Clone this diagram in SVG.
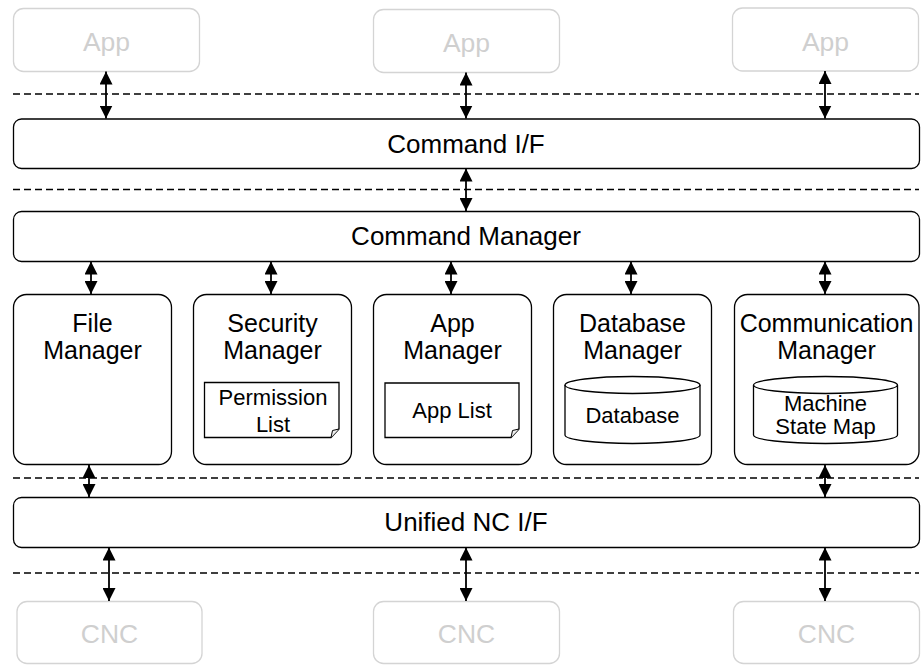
<svg xmlns="http://www.w3.org/2000/svg" width="923" height="665" viewBox="0 0 923 665">
<style>
text{font-family:"Liberation Sans",Arial,sans-serif;text-anchor:middle;fill:#000}
.main{font-size:25px}
.bar{font-size:26px}
.inner{font-size:22px}
.box{fill:#fff;stroke:#000;stroke-width:1.3}
.ghost{fill:#fff;stroke:#d4d4d4;stroke-width:1.3}
.ghostt{fill:#cfcfcf;font-size:26.5px}
.dash{stroke:#000;stroke-width:1.6;stroke-dasharray:7 4;fill:none}
.conn{stroke:#000;stroke-width:1.8;fill:none;marker-start:url(#ah);marker-end:url(#ah)}
</style>
<defs>
<marker id="ah" markerUnits="userSpaceOnUse" markerWidth="13" markerHeight="13" refX="13" refY="6.5" orient="auto-start-reverse">
<path d="M0,0 L13,6.5 L0,13 z" fill="#000"/>
</marker>
</defs>
<g id="separators">
<line class="dash" x1="13" y1="94" x2="919" y2="94"/>
<line class="dash" x1="13" y1="189.5" x2="919" y2="189.5"/>
<line class="dash" x1="13" y1="478" x2="919" y2="478"/>
<line class="dash" x1="13" y1="573" x2="919" y2="573"/>
</g>
<g id="app1"><rect class="ghost" x="13.5" y="8.5" width="186" height="63" rx="10"/><text class="ghostt" x="106.5" y="50.5">App</text></g>
<g id="app2"><rect class="ghost" x="373.5" y="9.5" width="186" height="63" rx="10"/><text class="ghostt" x="466.5" y="51.5">App</text></g>
<g id="app3"><rect class="ghost" x="732.5" y="8" width="186" height="63" rx="10"/><text class="ghostt" x="825.5" y="50.5">App</text></g>
<g id="command-if"><rect class="box" x="13.5" y="119" width="906" height="49.5" rx="8"/><text class="bar" x="466" y="153">Command I/F</text></g>
<g id="command-manager"><rect class="box" x="13.5" y="211.5" width="906" height="50" rx="8"/><text class="bar" x="466" y="245">Command Manager</text></g>
<g id="file-manager"><rect class="box" x="13.5" y="294.5" width="158" height="170" rx="13"/><text class="main" x="92.5" y="331.5">File</text><text class="main" x="92.5" y="358.5">Manager</text></g>
<g id="security-manager"><rect class="box" x="193.5" y="294.5" width="158" height="170" rx="13"/><text class="main" x="272.5" y="331.5">Security</text><text class="main" x="272.5" y="358.5">Manager</text>
<g id="permission-list"><path class="box" d="M204.5,382.5 H339 V429 L331,437.5 H204.5 Z"/><path d="M331,437.5 L332.5,430.5 L339,429" fill="#eee" stroke="#000" stroke-width="1"/><text class="inner" x="273" y="405">Permission</text><text class="inner" x="273" y="431.5">List</text></g></g>
<g id="app-manager"><rect class="box" x="373.5" y="294.5" width="158" height="170" rx="13"/><text class="main" x="452.5" y="331.5">App</text><text class="main" x="452.5" y="358.5">Manager</text>
<g id="app-list"><path class="box" d="M385,383 H519 V429 L511,437.5 H385 Z"/><path d="M511,437.5 L512.5,430.5 L519,429" fill="#eee" stroke="#000" stroke-width="1"/><text class="inner" x="452" y="418">App List</text></g></g>
<g id="database-manager"><rect class="box" x="553.5" y="294.5" width="158" height="170" rx="13"/><text class="main" x="632.5" y="331.5">Database</text><text class="main" x="632.5" y="358.5">Manager</text>
<g id="database"><path class="box" d="M565,385 A67.5,8.5 0 0 1 700,385 V435 A67.5,8.5 0 0 1 565,435 Z"/><path d="M565,385 A67.5,8.5 0 0 0 700,385" fill="none" stroke="#000" stroke-width="1.3"/><text class="inner" x="632.5" y="422.5">Database</text></g></g>
<g id="communication-manager"><rect class="box" x="734.5" y="294.5" width="184.5" height="170" rx="13"/><text class="main" x="826.5" y="331.5">Communication</text><text class="main" x="826.5" y="358.5">Manager</text>
<g id="machine-state-map"><path class="box" d="M753.5,385 A72,8.5 0 0 1 897.5,385 V435 A72,8.5 0 0 1 753.5,435 Z"/><path d="M753.5,385 A72,8.5 0 0 0 897.5,385" fill="none" stroke="#000" stroke-width="1.3"/><text class="inner" x="825.5" y="410.5">Machine</text><text class="inner" x="825.5" y="434">State Map</text></g></g>
<g id="unified-nc-if"><rect class="box" x="13.5" y="497.5" width="906" height="50" rx="8"/><text class="bar" x="466" y="531">Unified NC I/F</text></g>
<g id="cnc1"><rect class="ghost" x="17" y="601.5" width="185" height="62" rx="10"/><text class="ghostt" x="109.5" y="642.5">CNC</text></g>
<g id="cnc2"><rect class="ghost" x="373.5" y="601.5" width="186" height="62" rx="10"/><text class="ghostt" x="466.5" y="642.5">CNC</text></g>
<g id="cnc3"><rect class="ghost" x="733.5" y="601.5" width="186" height="62" rx="10"/><text class="ghostt" x="826.5" y="642.5">CNC</text></g>
<g id="connectors">
<line class="conn" x1="106" y1="71.5" x2="106" y2="118.5"/>
<line class="conn" x1="466" y1="72.5" x2="466" y2="118.5"/>
<line class="conn" x1="825" y1="71" x2="825" y2="118.5"/>
<line class="conn" x1="466" y1="168.5" x2="466" y2="211"/>
<line class="conn" x1="91" y1="261.5" x2="91" y2="294"/>
<line class="conn" x1="271" y1="261.5" x2="271" y2="294"/>
<line class="conn" x1="451" y1="261.5" x2="451" y2="294"/>
<line class="conn" x1="631" y1="261.5" x2="631" y2="294"/>
<line class="conn" x1="825" y1="261.5" x2="825" y2="294"/>
<line class="conn" x1="89" y1="465" x2="89" y2="497"/>
<line class="conn" x1="825" y1="465" x2="825" y2="497"/>
<line class="conn" x1="109" y1="547.5" x2="109" y2="601"/>
<line class="conn" x1="466" y1="547.5" x2="466" y2="601"/>
<line class="conn" x1="825" y1="547.5" x2="825" y2="601"/>
</g>
</svg>
